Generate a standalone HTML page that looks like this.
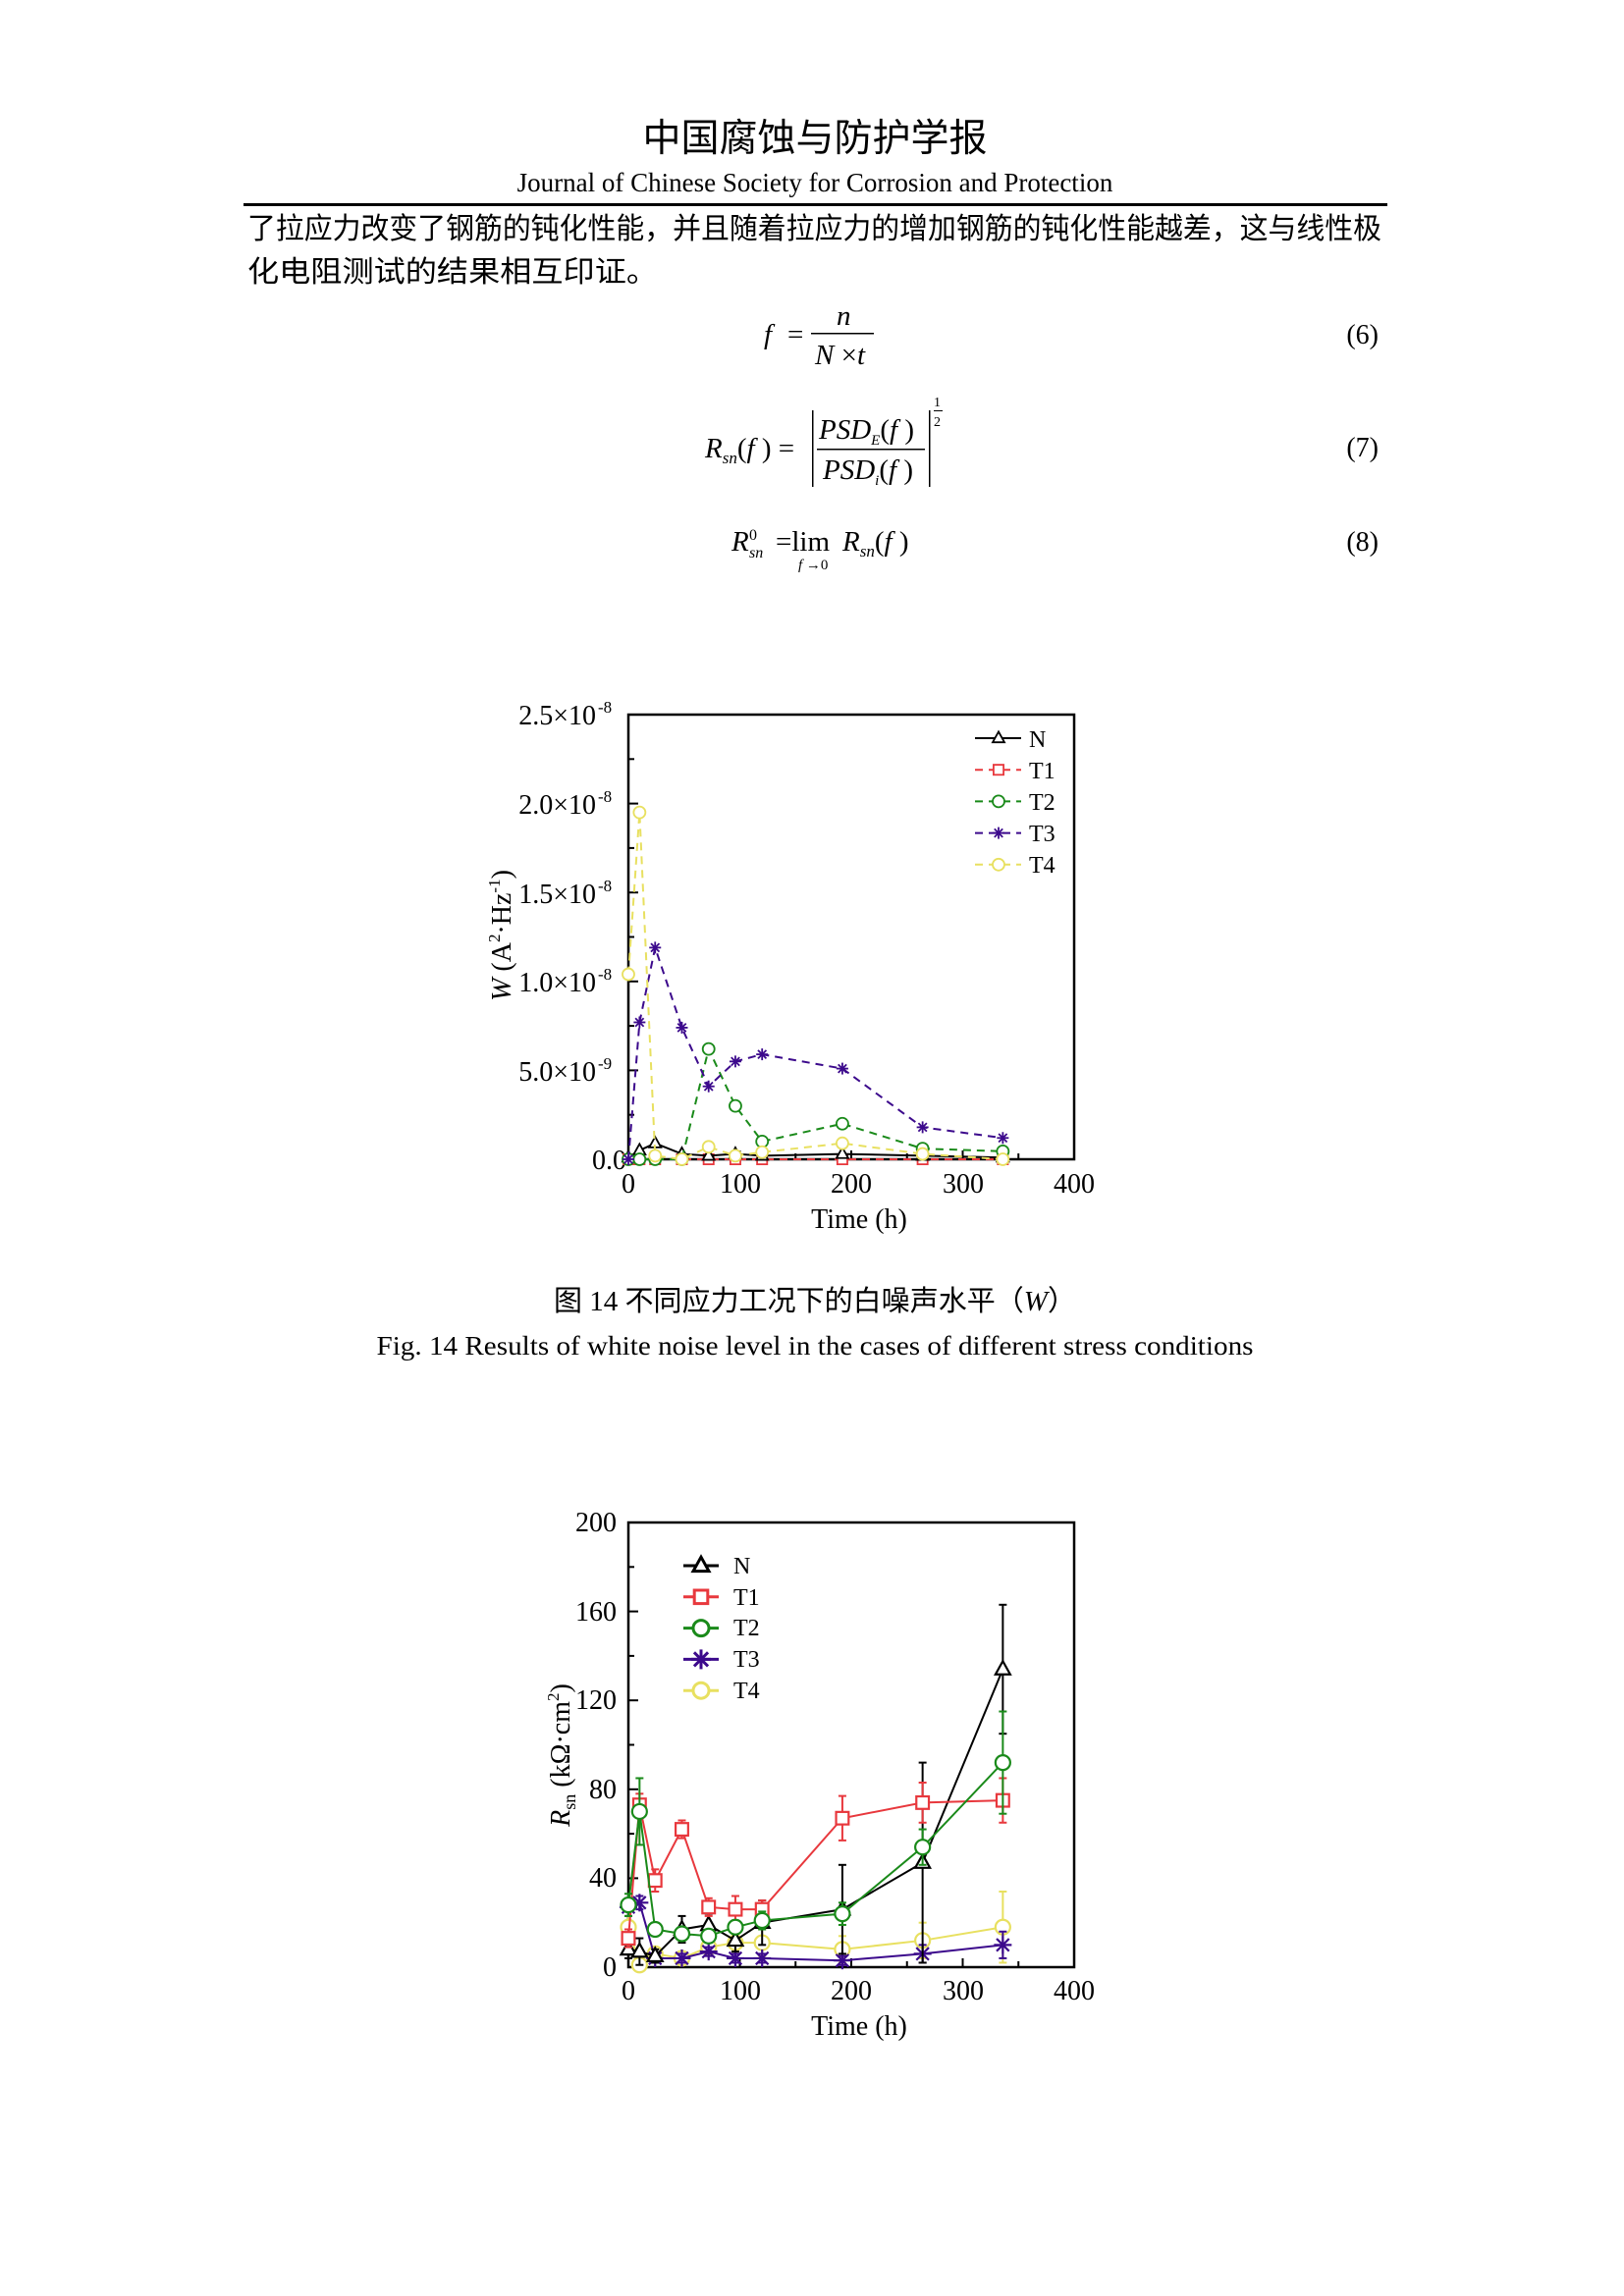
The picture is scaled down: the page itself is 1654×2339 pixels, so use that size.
<!DOCTYPE html>
<html><head><meta charset="utf-8"><style>
html,body{margin:0;padding:0;background:#fff}
svg{display:block}
text{font-family:"Liberation Serif","Noto Serif CJK SC",serif;fill:#000}
.cjk{font-family:"Liberation Serif","Noto Sans CJK SC",sans-serif}
.i{font-style:italic}
</style></head><body>
<svg id="s" xmlns="http://www.w3.org/2000/svg" width="1654" height="2339" viewBox="0 0 1654 2339">
<rect width="1654" height="2339" fill="#fff"/>
<text class="cjk" x="830" y="154" font-size="39" text-anchor="middle">中国腐蚀与防护学报</text>
<text x="830" y="195" font-size="27" text-anchor="middle">Journal of Chinese Society for Corrosion and Protection</text>
<rect x="248" y="207" width="1165" height="3" fill="#000"/>
<text class="cjk" x="252" y="243" font-size="30" textLength="1155" lengthAdjust="spacingAndGlyphs">了拉应力改变了钢筋的钝化性能，并且随着拉应力的增加钢筋的钝化性能越差，这与线性极</text>
<text class="cjk" x="252" y="287" font-size="30" textLength="418" lengthAdjust="spacingAndGlyphs">化电阻测试的结果相互印证。</text>

<text x="778" y="350" font-size="29" class="i">f</text>
<text x="802" y="350" font-size="29">=</text>
<text x="852" y="331" font-size="29" class="i">n</text>
<rect x="826" y="339" width="64" height="1.5" fill="#000"/>
<text x="830" y="371" font-size="29"><tspan class="i">N</tspan> ×<tspan class="i">t</tspan></text>
<text x="1404" y="350" font-size="28" text-anchor="end">(6)</text>
<text x="718" y="466" font-size="29"><tspan class="i">R</tspan><tspan class="i" font-size="17" dy="6">sn</tspan><tspan dy="-6">(</tspan><tspan class="i">f</tspan> ) =</tspan></text>
<rect x="827" y="418" width="1.5" height="78" fill="#000"/>
<rect x="946" y="418" width="1.5" height="78" fill="#000"/>
<text x="834" y="447" font-size="29"><tspan class="i">PSD</tspan><tspan class="i" font-size="15" dy="6">E</tspan><tspan dy="-6">(</tspan><tspan class="i">f</tspan> )</text>
<rect x="832" y="457" width="110" height="1.5" fill="#000"/>
<text x="838" y="488" font-size="29"><tspan class="i">PSD</tspan><tspan class="i" font-size="15" dy="6">i</tspan><tspan dy="-6">(</tspan><tspan class="i">f</tspan> )</text>
<text x="951" y="414" font-size="14">1</text>
<rect x="951" y="418" width="9" height="1" fill="#000"/>
<text x="951" y="434" font-size="14">2</text>
<text x="1404" y="465" font-size="28" text-anchor="end">(7)</text>
<text x="745" y="561" font-size="29"><tspan class="i">R</tspan></text>
<text x="763" y="550" font-size="16">0</text>
<text x="763" y="568" font-size="16" class="i">sn</text>
<text x="790" y="561" font-size="29">=lim</text>
<text x="813" y="580" font-size="15"><tspan class="i">f</tspan> →0</text>
<text x="858" y="561" font-size="29"><tspan class="i">R</tspan><tspan class="i" font-size="17" dy="6">sn</tspan><tspan dy="-6">(</tspan><tspan class="i">f</tspan> )</text>
<text x="1404" y="561" font-size="28" text-anchor="end">(8)</text>

<g font-size="28">
<text x="607" y="738" text-anchor="end">2.5×10</text><text x="609" y="726" font-size="17">-8</text>
<text x="607" y="829" text-anchor="end">2.0×10</text><text x="609" y="817" font-size="17">-8</text>
<text x="607" y="920" text-anchor="end">1.5×10</text><text x="609" y="908" font-size="17">-8</text>
<text x="607" y="1010" text-anchor="end">1.0×10</text><text x="609" y="998" font-size="17">-8</text>
<text x="607" y="1101" text-anchor="end">5.0×10</text><text x="609" y="1089" font-size="17">-9</text>
<text x="638" y="1191" text-anchor="end">0.0</text>
<text x="640" y="1215" text-anchor="middle">0</text>
<text x="754" y="1215" text-anchor="middle">100</text>
<text x="867" y="1215" text-anchor="middle">200</text>
<text x="981" y="1215" text-anchor="middle">300</text>
<text x="1094" y="1215" text-anchor="middle">400</text>
<text x="875" y="1251" text-anchor="middle">Time (h)</text>
<text transform="translate(520,953) rotate(-90)" text-anchor="middle"><tspan class="i">W</tspan> (A<tspan font-size="17" dy="-11">2</tspan><tspan dy="11">·Hz</tspan><tspan font-size="17" dy="-11">-1</tspan><tspan dy="11">)</tspan></text>
</g>
<g font-size="24">
<text x="1048" y="761">N</text><text x="1048" y="793">T1</text><text x="1048" y="825">T2</text><text x="1048" y="857">T3</text><text x="1048" y="889">T4</text>
</g>
<text class="cjk" x="830" y="1335" font-size="29" text-anchor="middle" textLength="532" lengthAdjust="spacingAndGlyphs">图 14  不同应力工况下的白噪声水平（<tspan class="i" font-family="Liberation Serif">W</tspan>）</text>
<text x="830" y="1380" font-size="27" text-anchor="middle" textLength="893" lengthAdjust="spacingAndGlyphs">Fig. 14 Results of white noise level in the cases of different stress conditions</text>

<g font-size="28">
<text x="628" y="1560" text-anchor="end">200</text>
<text x="628" y="1651" text-anchor="end">160</text>
<text x="628" y="1741" text-anchor="end">120</text>
<text x="628" y="1832" text-anchor="end">80</text>
<text x="628" y="1922" text-anchor="end">40</text>
<text x="628" y="2013" text-anchor="end">0</text>
<text x="640" y="2037" text-anchor="middle">0</text>
<text x="754" y="2037" text-anchor="middle">100</text>
<text x="867" y="2037" text-anchor="middle">200</text>
<text x="981" y="2037" text-anchor="middle">300</text>
<text x="1094" y="2037" text-anchor="middle">400</text>
<text x="875" y="2073" text-anchor="middle">Time (h)</text>
<text transform="translate(580,1788) rotate(-90)" text-anchor="middle"><tspan class="i">R</tspan><tspan font-size="18" dy="6">sn</tspan><tspan dy="-6"> (kΩ·cm</tspan><tspan font-size="17" dy="-11">2</tspan><tspan dy="11">)</tspan></text>
</g>
<g font-size="24">
<text x="747" y="1603">N</text><text x="747" y="1635">T1</text><text x="747" y="1666">T2</text><text x="747" y="1698">T3</text><text x="747" y="1730">T4</text>
</g>
<g id="plots"></g>
</svg>
<script>
var NS="http://www.w3.org/2000/svg",G=document.getElementById("plots");
function el(n,a){var e=document.createElementNS(NS,n);for(var k in a)e.setAttribute(k,a[k]);G.appendChild(e);return e;}
function marker(t,x,y,c,r,w){
 if(t=="tri")el("polygon",{points:(x)+","+(y-r*1.1)+" "+(x-r)+","+(y+r*0.7)+" "+(x+r)+","+(y+r*0.7),fill:"#fff",stroke:c,"stroke-width":w});
 else if(t=="sq")el("rect",{x:x-r*0.85,y:y-r*0.85,width:r*1.7,height:r*1.7,fill:"#fff",stroke:c,"stroke-width":w});
 else if(t=="ci")el("circle",{cx:x,cy:y,r:r,fill:"#fff",stroke:c,"stroke-width":w});
 else{for(var a=0;a<4;a++){var an=a*Math.PI/4;el("line",{x1:x-r*Math.cos(an),y1:y-r*Math.sin(an),x2:x+r*Math.cos(an),y2:y+r*Math.sin(an),stroke:c,"stroke-width":w});}}
}
var T=[0,10,24,48,72,96,120,192,264,336];
function frame(top,bot,yt){
 el("rect",{x:640,y:top,width:454,height:bot-top,fill:"none",stroke:"#000","stroke-width":2.5});
 for(var t=0;t<=400;t+=50){var x=640+t*1.135;el("line",{x1:x,y1:bot,x2:x,y2:bot-(t%100?6:9),stroke:"#000","stroke-width":2});}
 yt.forEach(function(v){el("line",{x1:640,y1:v[0],x2:640+v[1],y2:v[0],stroke:"#000","stroke-width":2});});
}
var yt1=[];for(var k=0;k<=10;k++)yt1.push([1181-k*45.3,k%2?6:10]);
frame(728,1181,yt1);
function X(t){return 640+t*1.135}
function Y1(w){return 1181-w*18.12}
var s1=[
 {c:"#e8383d",m:"sq",d:"8,6",v:[0,0,0,0,0,0,0,0,0,0]},
 {c:"#000",m:"tri",d:"",v:[0.1,0.5,0.9,0.3,0.2,0.3,0.2,0.3,0.2,0.1]},
 {c:"#1a8a1a",m:"ci",d:"8,6",v:[0,0,0,0,6.2,3.0,1.0,2.0,0.6,0.45]},
 {c:"#3c0a8c",m:"st",d:"8,6",v:[0,7.7,11.9,7.4,4.1,5.5,5.9,5.1,1.8,1.2]},
 {c:"#e8e060",m:"ci",d:"8,6",v:[10.4,19.5,0.2,0,0.7,0.2,0.4,0.9,0.3,0]}];
s1.forEach(function(s){
 var p=T.map(function(t,i){return X(t)+","+Y1(s.v[i])}).join(" ");
 el("polyline",{points:p,fill:"none",stroke:s.c,"stroke-width":2,"stroke-dasharray":s.d});
 T.forEach(function(t,i){marker(s.m,X(t),Y1(s.v[i]),s.c,6,1.8);});
});
var lg1=[["#000","tri",""],["#e8383d","sq","8,6"],["#1a8a1a","ci","8,6"],["#3c0a8c","st","8,6"],["#e8e060","ci","8,6"]];
lg1.forEach(function(l,i){var y=752+i*32.2;el("line",{x1:993,y1:y,x2:1040,y2:y,stroke:l[0],"stroke-width":2,"stroke-dasharray":l[2]});marker(l[1],1017,y,l[0],6,1.8);});
var yt2=[];for(var k=0;k<=10;k++)yt2.push([2004-k*45.3,k%2?6:10]);
frame(1551,2004,yt2);
function Y2(v){return 2004-v*2.265}
var s2=[
 {c:"#e8e060",m:"ci",v:[18,1,6,4,9,11,11,8,12,18],e:[5,2,3,3,3,4,6,6,8,16]},
 {c:"#3c0a8c",m:"st",v:[27,29,4,4,7,4,4,3,6,10],e:[4,3,2,2,2,2,2,2,4,6]},
 {c:"#000",m:"tri",v:[8,7,5,17,19,12,20,26,47,134],e:[4,6,3,6,5,5,10,20,45,29]},
 {c:"#e8383d",m:"sq",v:[13,73,39,62,27,26,26,67,74,75],e:[4,5,5,4,4,6,4,10,9,10]},
 {c:"#1a8a1a",m:"ci",v:[28,70,17,15,14,18,21,24,54,92],e:[5,15,3,3,3,3,4,5,8,23]}];
s2.forEach(function(s){
 T.forEach(function(t,i){var x=X(t),y1=Y2(s.v[i]+s.e[i]),y2=Y2(Math.max(0,s.v[i]-s.e[i]));
  el("line",{x1:x,y1:y1,x2:x,y2:y2,stroke:s.c,"stroke-width":2});
  el("line",{x1:x-4,y1:y1,x2:x+4,y2:y1,stroke:s.c,"stroke-width":2});
  el("line",{x1:x-4,y1:y2,x2:x+4,y2:y2,stroke:s.c,"stroke-width":2});});
 var p=T.map(function(t,i){return X(t)+","+Y2(s.v[i])}).join(" ");
 el("polyline",{points:p,fill:"none",stroke:s.c,"stroke-width":2});
 T.forEach(function(t,i){marker(s.m,X(t),Y2(s.v[i]),s.c,s.m=="st"?9:7.5,2.2);});
});
var lg2=[["#000","tri"],["#e8383d","sq"],["#1a8a1a","ci"],["#3c0a8c","st"],["#e8e060","ci"]];
lg2.forEach(function(l,i){var y=1595+i*31.8;el("line",{x1:696,y1:y,x2:732,y2:y,stroke:l[0],"stroke-width":3});marker(l[1],714,y,l[0],l[1]=="st"?10:8,3);});
</script>
</body></html>
